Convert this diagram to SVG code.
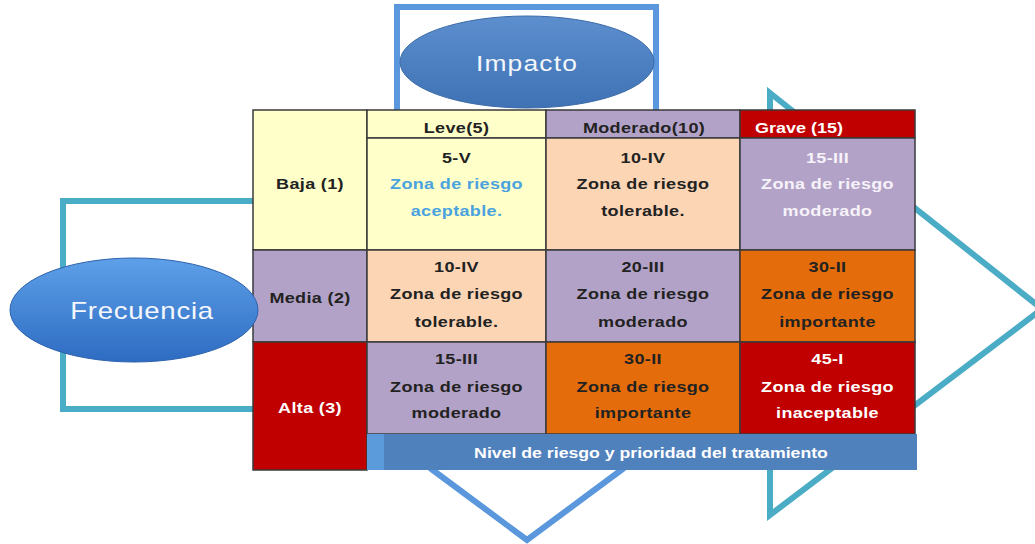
<svg xmlns="http://www.w3.org/2000/svg" width="1035" height="544" viewBox="0 0 1035 544">
<defs>
<linearGradient id="gImp" x1="0" y1="0" x2="0" y2="1"><stop offset="0" stop-color="#5d8fcf"/><stop offset="1" stop-color="#3e72b4"/></linearGradient>
<linearGradient id="gFre" x1="0" y1="0" x2="0" y2="1"><stop offset="0" stop-color="#5ea0e8"/><stop offset="1" stop-color="#2d6cc2"/></linearGradient>
<style>
.fr{fill:none;stroke-width:6;stroke-linejoin:miter}
.teal{stroke:#4bacc6}
.blue{stroke:#5b97dc}
.c{stroke:#3a3a3a;stroke-width:1.5}
.t{font-family:"Liberation Sans",Arial,sans-serif;font-weight:bold;font-size:15px;letter-spacing:0.3px;text-anchor:middle;fill:#222}
.w{fill:#ffffff}
.lb{fill:#4aa3df}
.pl{fill:#f6f2fa}
.el{font-family:"Liberation Sans",Arial,sans-serif;font-size:22px;fill:#f4f7fb;text-anchor:middle}
</style>
</defs>
<rect width="1035" height="544" fill="#ffffff"/>
<g id="arrows">
<path class="fr blue" d="M397,112 V7 H656 V112"/>
<polygon class="fr teal" points="770,93 1042,309 770,515"/>
<path class="fr teal" d="M256,201 H63 V409 H256"/>
<polyline class="fr blue" points="430,468 527,540 624,468"/>
</g>
<g id="table">
<g id="baja"><rect class="c" x="253" y="110" width="114" height="140" fill="#ffffc9"/><text class="t" transform="matrix(1.2 0 0 1 310 189)">Baja (1)</text></g>
<g id="media"><rect class="c" x="253" y="250" width="114" height="92" fill="#b3a2c7"/><text class="t" transform="matrix(1.2 0 0 1 310 303)">Media (2)</text></g>
<g id="alta"><rect class="c" x="253" y="342" width="114" height="128" fill="#c00000"/><text class="t w" transform="matrix(1.2 0 0 1 310 413)">Alta (3)</text></g>
<g id="leve"><rect class="c" x="367" y="110" width="179" height="28" fill="#ffffc9"/><text class="t" transform="matrix(1.2 0 0 1 456.5 133)">Leve(5)</text></g>
<g id="moderado"><rect class="c" x="546" y="110" width="194" height="28" fill="#b3a2c7"/><text class="t" transform="matrix(1.2 0 0 1 644 133)">Moderado(10)</text></g>
<g id="grave"><rect class="c" x="740" y="110" width="175" height="28" fill="#c00000"/><text class="t w" style="text-anchor:start;letter-spacing:0" transform="matrix(1.2 0 0 1 755 133)">Grave (15)</text></g>
<g id="c11"><rect class="c" x="367" y="138" width="179" height="112" fill="#ffffc9"/><text class="t" transform="matrix(1.2 0 0 1 456.5 163)">5-V</text><text class="t lb" transform="matrix(1.2 0 0 1 456.5 189)">Zona de riesgo</text><text class="t lb" transform="matrix(1.2 0 0 1 456.5 216)">aceptable.</text></g>
<g id="c12"><rect class="c" x="546" y="138" width="194" height="112" fill="#fcd5b5"/><text class="t" transform="matrix(1.2 0 0 1 643 163)">10-IV</text><text class="t" transform="matrix(1.2 0 0 1 643 189)">Zona de riesgo</text><text class="t" transform="matrix(1.2 0 0 1 643 216)">tolerable.</text></g>
<g id="c13"><rect class="c" x="740" y="138" width="175" height="112" fill="#b3a2c7"/><text class="t pl" transform="matrix(1.2 0 0 1 827.5 163)">15-III</text><text class="t pl" transform="matrix(1.2 0 0 1 827.5 189)">Zona de riesgo</text><text class="t pl" transform="matrix(1.2 0 0 1 827.5 216)">moderado</text></g>
<g id="c21"><rect class="c" x="367" y="250" width="179" height="92" fill="#fcd5b5"/><text class="t" transform="matrix(1.2 0 0 1 456.5 272)">10-IV</text><text class="t" transform="matrix(1.2 0 0 1 456.5 299)">Zona de riesgo</text><text class="t" transform="matrix(1.2 0 0 1 456.5 327)">tolerable.</text></g>
<g id="c22"><rect class="c" x="546" y="250" width="194" height="92" fill="#b3a2c7"/><text class="t" transform="matrix(1.2 0 0 1 643 272)">20-III</text><text class="t" transform="matrix(1.2 0 0 1 643 299)">Zona de riesgo</text><text class="t" transform="matrix(1.2 0 0 1 643 327)">moderado</text></g>
<g id="c23"><rect class="c" x="740" y="250" width="175" height="92" fill="#e46c0a"/><text class="t" transform="matrix(1.2 0 0 1 827.5 272)">30-II</text><text class="t" transform="matrix(1.2 0 0 1 827.5 299)">Zona de riesgo</text><text class="t" transform="matrix(1.2 0 0 1 827.5 327)">importante</text></g>
<g id="c31"><rect class="c" x="367" y="342" width="179" height="92" fill="#b3a2c7"/><text class="t" transform="matrix(1.2 0 0 1 456.5 364)">15-III</text><text class="t" transform="matrix(1.2 0 0 1 456.5 392)">Zona de riesgo</text><text class="t" transform="matrix(1.2 0 0 1 456.5 418)">moderado</text></g>
<g id="c32"><rect class="c" x="546" y="342" width="194" height="92" fill="#e46c0a"/><text class="t" transform="matrix(1.2 0 0 1 643 364)">30-II</text><text class="t" transform="matrix(1.2 0 0 1 643 392)">Zona de riesgo</text><text class="t" transform="matrix(1.2 0 0 1 643 418)">importante</text></g>
<g id="c33"><rect class="c" x="740" y="342" width="175" height="92" fill="#c00000"/><text class="t w" transform="matrix(1.2 0 0 1 827.5 364)">45-I</text><text class="t w" transform="matrix(1.2 0 0 1 827.5 392)">Zona de riesgo</text><text class="t w" transform="matrix(1.2 0 0 1 827.5 418)">inaceptable</text></g>
<g id="banner"><rect x="367" y="434" width="550" height="36" fill="#4f81bd"/><rect x="367" y="434" width="17" height="36" fill="#5b9bdc"/><text transform="matrix(1.18 0 0 1 651 458)" style="font-family:'Liberation Sans',Arial,sans-serif;font-weight:bold;font-size:15px;fill:#ffffff;text-anchor:middle">Nivel de riesgo y prioridad del tratamiento</text></g>
</g>
<g id="impacto"><ellipse cx="527" cy="62" rx="127" ry="46" fill="url(#gImp)" stroke="#3b6aa6" stroke-width="1"/><text class="el" style="letter-spacing:1px" transform="matrix(1.2 0 0 1 527 71)">Impacto</text></g>
<g id="frecuencia"><ellipse cx="134" cy="310" rx="124" ry="52" fill="url(#gFre)" stroke="#2d62ad" stroke-width="1"/><text class="el" style="font-size:23px;letter-spacing:0.6px" transform="matrix(1.2 0 0 1 142 319)">Frecuencia</text></g>
</svg>
